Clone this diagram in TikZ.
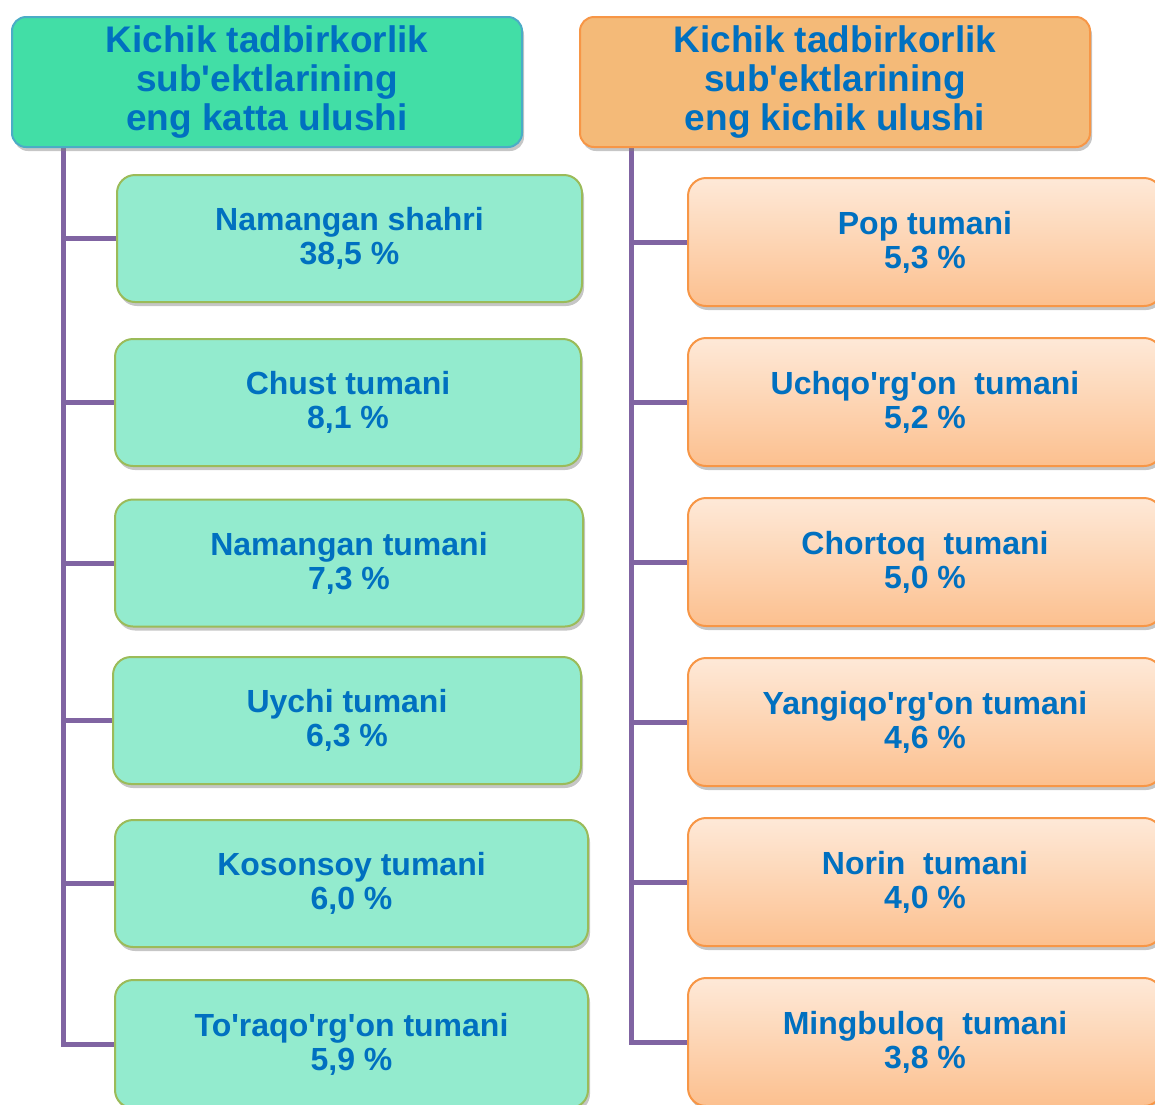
\documentclass[tikz,border=0pt]{standalone}
\usepackage{fontspec}
\newfontfamily\hv{Liberation Sans}
\usetikzlibrary{shadows,backgrounds}
\definecolor{txt}{HTML}{0070C0}
\definecolor{hdrLfill}{HTML}{42DEA6}
\definecolor{hdrLline}{HTML}{4BACC6}
\definecolor{chLfill}{HTML}{93EBCE}
\definecolor{chLline}{HTML}{9BBB59}
\definecolor{hdrRfill}{HTML}{F4BA78}
\definecolor{orline}{HTML}{F79646}
\definecolor{chRtop}{HTML}{FEE9D8}
\definecolor{chRbot}{HTML}{FCC08F}
\definecolor{conn}{HTML}{8064A2}
\tikzset{
  base/.style={rounded corners=14pt, line width=2pt, align=center, inner sep=0pt,
    text=txt, font=\hv\bfseries\fontsize{32}{34}\selectfont,
    drop shadow={shadow xshift=2pt, shadow yshift=-4pt, opacity=0.45}},
  hdrL/.style={base, fill=hdrLfill, draw=hdrLline, minimum width=510pt, minimum height=130pt,
    font=\hv\bfseries\fontsize{37}{39}\selectfont},
  hdrR/.style={base, fill=hdrRfill, draw=orline, minimum width=510pt, minimum height=130pt,
    font=\hv\bfseries\fontsize{37}{39}\selectfont},
  chL/.style={base, fill=chLfill, draw=chLline, minimum height=127pt, rounded corners=18pt},
  chR/.style={base, top color=chRtop, bottom color=chRbot, draw=orline, minimum width=474pt,
    minimum height=128pt, rounded corners=18pt},
  link/.style={draw=conn, line width=5pt}
}
\begin{document}
\begin{tikzpicture}[x=1pt,y=-1pt]
\useasboundingbox (0,0) rectangle (1155,1104);
% headers
\node[hdrL] (h1) at (267,82) {Kichik tadbirkorlik\\sub'ektlarining\\eng katta ulushi};
\node[hdrR] (h2) at (835,82) {Kichik tadbirkorlik\\sub'ektlarining\\eng kichik ulushi};
% left children
\node[chL, minimum width=465pt] (l1) at (349.5,238.5) {Namangan shahri\\38,5 \%};
\node[chL, minimum width=466pt] (l2) at (348,402.5) {Chust tumani\\8,1 \%};
\node[chL, minimum width=468pt] (l3) at (349,563) {Namangan tumani\\7,3 \%};
\node[chL, minimum width=468pt] (l4) at (347,720.5) {Uychi tumani\\6,3 \%};
\node[chL, minimum width=473pt] (l5) at (351.5,883.5) {Kosonsoy tumani\\6,0 \%};
\node[chL, minimum width=473pt, minimum height=128pt] (l6) at (351.5,1044) {To'raqo'rg'on tumani\\5,9 \%};
% right children
\node[chR] (r1) at (925,242) {Pop tumani\\5,3 \%};
\node[chR] (r2) at (925,402) {Uchqo'rg'on\ \ tumani\\5,2 \%};
\node[chR] (r3) at (925,562) {Chortoq\ \ tumani\\5,0 \%};
\node[chR] (r4) at (925,722) {Yangiqo'rg'on tumani\\4,6 \%};
\node[chR] (r5) at (925,882) {Norin\ \ tumani\\4,0 \%};
\node[chR] (r6) at (925,1042) {Mingbuloq\ \ tumani\\3,8 \%};
% connectors
\coordinate (t1) at (63,147);
\coordinate (t2) at (631,147);
\begin{scope}[on background layer]
\draw[link] (t1) |- (l6.west);
\foreach \n in {l1,l2,l3,l4,l5} \draw[link] (t1 |- \n.west) -- (\n.west);
\draw[link] (t2) |- (r6.west);
\foreach \n in {r1,r2,r3,r4,r5} \draw[link] (t2 |- \n.west) -- (\n.west);
\end{scope}
\end{tikzpicture}
\end{document}
